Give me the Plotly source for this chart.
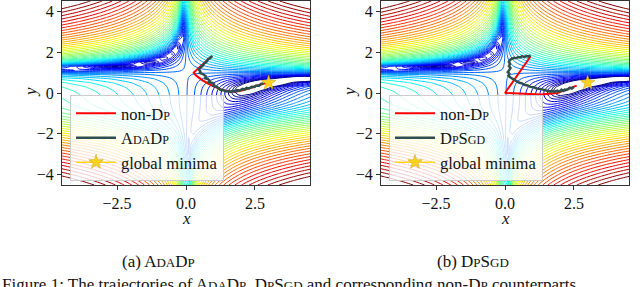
import numpy as np
import plotly.graph_objects as go

# ---------------- data ----------------
# Beale's function evaluated on a coarse grid (the plotted objective)
grid_x = np.linspace(-4.5, 4.5, 46)
grid_y = np.linspace(-4.5, 4.5, 46)
n_levels = 45
log_level_min = 0.0
log_level_max = 5.0

minima_x = [3.0]
minima_y = [0.5]

# panel (a)
nondp_a_x = [0.93, 0.70, 0.48, 0.28, 0.36, 0.60, 0.92, 1.22, 1.52, 1.80, 2.10, 2.40, 2.70, 2.93]
nondp_a_y = [1.80, 1.52, 1.25, 1.00, 0.86, 0.62, 0.38, 0.20, 0.08, 0.06, 0.15, 0.28, 0.42, 0.50]
adadp_x = [0.95, 0.88, 0.80, 0.74, 0.66, 0.60, 0.52, 0.47, 0.52, 0.50, 0.60, 0.66, 0.72, 0.70,
           0.80, 0.86, 0.84, 0.95, 1.02, 1.00, 1.12, 1.20, 1.25, 1.35, 1.45, 1.52, 1.62, 1.70,
           1.78, 1.85, 1.95, 2.05, 2.12, 2.20, 2.30, 2.38, 2.48, 2.55, 2.65, 2.72, 2.80]
adadp_y = [1.82, 1.70, 1.66, 1.52, 1.45, 1.32, 1.25, 1.15, 1.05, 0.98, 0.94, 0.86, 0.82, 0.72,
           0.68, 0.60, 0.52, 0.50, 0.42, 0.35, 0.30, 0.22, 0.16, 0.14, 0.08, 0.10, 0.05, 0.10,
           0.06, 0.14, 0.12, 0.20, 0.17, 0.25, 0.22, 0.30, 0.29, 0.37, 0.36, 0.45, 0.47]

# panel (b)
nondp_b_x = [0.93, 0.00, 1.30, 1.90, 2.30, 2.60]
nondp_b_y = [1.80, 0.00, -0.07, 0.00, 0.20, 0.36]
dpsgd_x = [0.93, 0.85, 0.78, 0.70, 0.62, 0.55, 0.48, 0.40, 0.32, 0.25, 0.18, 0.14, 0.18, 0.14,
           0.20, 0.15, 0.10, 0.16, 0.12, 0.20, 0.28, 0.35, 0.45, 0.52, 0.62, 0.70, 0.82, 0.92,
           1.05, 1.15, 1.28, 1.40, 1.52, 1.62, 1.72, 1.80, 1.90, 1.98, 2.05, 2.12, 2.20, 2.15,
           2.28, 2.35, 2.42, 2.50]
dpsgd_y = [1.84, 1.78, 1.82, 1.76, 1.80, 1.74, 1.76, 1.70, 1.72, 1.66, 1.62, 1.52, 1.42, 1.32,
           1.22, 1.12, 1.02, 0.94, 0.85, 0.76, 0.70, 0.62, 0.58, 0.50, 0.47, 0.40, 0.37, 0.30,
           0.28, 0.22, 0.20, 0.15, 0.13, 0.08, 0.10, 0.05, 0.12, 0.06, 0.16, 0.10, 0.20, 0.12,
           0.18, 0.26, 0.22, 0.30]

x_tickvals = [-2.5, 0.0, 2.5]
y_tickvals = [-4, -2, 0, 2, 4]


def beale(x, y):
    return (1.5 - x + x * y) ** 2 + (2.25 - x + x * y ** 2) ** 2 + (2.625 - x + x * y ** 3) ** 2


GX, GY = np.meshgrid(grid_x, grid_y)
Z = np.log10(beale(GX, GY))

# ---------------- style ----------------
W, H = 640, 287
FONT = "Liberation Serif"
RED = "#ff0000"
GRAY = "#2f4f4f"
GOLD = "#ffd21f"

mpl_jet = [
    [0.0, "rgb(0,0,127)"], [0.11, "rgb(0,0,255)"], [0.125, "rgb(0,0,255)"],
    [0.34, "rgb(0,219,255)"], [0.35, "rgb(0,229,247)"], [0.375, "rgb(20,255,226)"],
    [0.64, "rgb(239,255,8)"], [0.65, "rgb(247,245,0)"], [0.66, "rgb(255,236,0)"],
    [0.89, "rgb(255,19,0)"], [0.91, "rgb(232,0,0)"], [1.0, "rgb(127,0,0)"],
]


def sc(t, size=12):
    return f"<span style='font-size:{size}px'>{t}</span>"


ADADP = "A" + sc("DA") + "D" + sc("P")
DPSGD = "D" + sc("P") + "S" + sc("GD")
NONDP = "non-D" + sc("P")


def px(x):
    return x / W


def py(y):
    return 1 - y / H


fig = go.Figure()

panels = [
    ("x", "y", "legend", nondp_a_x, nondp_a_y, adadp_x, adadp_y, ADADP),
    ("x2", "y2", "legend2", nondp_b_x, nondp_b_y, dpsgd_x, dpsgd_y, DPSGD),
]

for xa, ya, lg, rx, ry, gx, gy, name in panels:
    fig.add_trace(go.Contour(
        x=grid_x, y=grid_y, z=Z, xaxis=xa, yaxis=ya,
        contours=dict(start=log_level_min, end=log_level_max,
                      size=(log_level_max - log_level_min) / (n_levels - 1),
                      coloring="lines"),
        colorscale=mpl_jet, zmin=log_level_min, zmax=log_level_max, zauto=False,
        line=dict(width=1.0), showscale=False, showlegend=False, hoverinfo="skip",
    ))
    fig.add_trace(go.Scatter(x=rx, y=ry, xaxis=xa, yaxis=ya, mode="lines",
                             line=dict(color=RED, width=2), name=NONDP, legend=lg))
    fig.add_trace(go.Scatter(x=gx, y=gy, xaxis=xa, yaxis=ya, mode="lines",
                             line=dict(color=GRAY, width=2.5), name=name, legend=lg))
    fig.add_trace(go.Scatter(x=minima_x, y=minima_y, xaxis=xa, yaxis=ya, mode="lines+markers",
                             line=dict(color=GOLD, width=1.5),
                             marker=dict(symbol="star", size=11, color=GOLD,
                                         line=dict(color="#c8a000", width=0.5)),
                             name="global minima", legend=lg))

axis_common = dict(showline=True, mirror=True, linecolor="#333", linewidth=1,
                   ticks="outside", ticklen=4, tickcolor="#333", showgrid=False,
                   zeroline=False, tickfont=dict(family=FONT, size=16, color="#111"))

yd = [py(185), py(1)]
fig.update_layout(
    width=W, height=H, margin=dict(l=0, r=0, t=0, b=0),
    paper_bgcolor="white", plot_bgcolor="white",
    font=dict(family=FONT, color="#111"),
    xaxis=dict(domain=[px(62), px(310)], range=[-4.5, 4.5], anchor="y",
               tickvals=x_tickvals, tickformat=".1f", **axis_common),
    yaxis=dict(domain=yd, range=[-4.5, 4.5], anchor="x", tickvals=y_tickvals, **axis_common),
    xaxis2=dict(domain=[px(381), px(629)], range=[-4.5, 4.5], anchor="y2",
                tickvals=x_tickvals, tickformat=".1f", **axis_common),
    yaxis2=dict(domain=yd, range=[-4.5, 4.5], anchor="x2", tickvals=y_tickvals, **axis_common),
)

legend_common = dict(bgcolor="rgba(255,255,255,0.8)", bordercolor="#cccccc", borderwidth=1,
                     font=dict(family=FONT, size=16.5, color="#111"),
                     xanchor="left", yanchor="bottom", tracegroupgap=0, itemwidth=40)
fig.update_layout(
    legend=dict(x=px(70), y=py(181), **legend_common),
    legend2=dict(x=px(389), y=py(181), **legend_common),
)

ann = []
txt = dict(xref="paper", yref="paper", showarrow=False, xanchor="center", yanchor="middle")
for cx in (186, 505):
    ann.append(dict(text="<i>x</i>", x=px(cx), y=py(218),
                    font=dict(family=FONT, size=17, color="#111"), **txt))
for cx in (30, 349):
    ann.append(dict(text="<i>y</i>", x=px(cx), y=py(92), textangle=-90,
                    font=dict(family=FONT, size=17, color="#111"), **txt))
ann.append(dict(text="(a) " + ADADP.replace("12px", "13px"), x=px(158), y=py(261),
                font=dict(family=FONT, size=17, color="#111"), **txt))
ann.append(dict(text="(b) " + DPSGD.replace("12px", "13px"), x=px(473), y=py(261),
                font=dict(family=FONT, size=17, color="#111"), **txt))
ann.append(dict(text="Figure 1: The trajectories of " + ADADP.replace("12px", "13px") + ", "
                + DPSGD.replace("12px", "13px") + " and corresponding non-D"
                + sc("P", 13) + " counterparts",
                x=0.0, y=py(273), xref="paper", yref="paper", xanchor="left", yanchor="top",
                showarrow=False, font=dict(family=FONT, size=17, color="#111")))
fig.update_layout(annotations=ann)

fig.write_html("out.html", config={"displayModeBar": False},
               post_script="document.body.style.margin='0';document.body.style.padding='0';")
